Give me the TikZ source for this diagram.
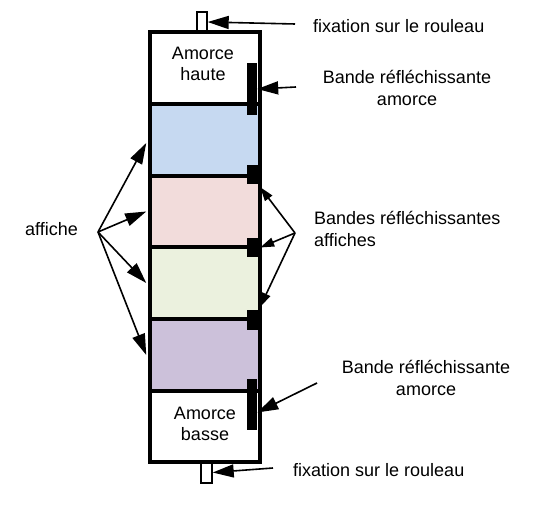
\documentclass[tikz,border=0pt]{standalone}
\usepackage{fontspec}
\setmainfont{Liberation Sans}
\usetikzlibrary{arrows.meta,positioning,calc}
\definecolor{bleuaff}{HTML}{C6D9F1}
\definecolor{roseaff}{HTML}{F2DCDB}
\definecolor{vertaff}{HTML}{EBF1DE}
\definecolor{violetaff}{HTML}{CCC1DA}
\tikzset{
  section/.style={draw=black,line width=3.5pt,minimum width=110pt,
                  minimum height=#1,inner sep=0pt},
  bande/.style={fill=black,draw=none,inner sep=0pt},
  patte/.style={draw=black,fill=white,line width=1.4pt,inner sep=0pt,
                minimum width=10pt,minimum height=20pt},
  etiquette/.style={font=\fontsize{18}{21.5}\selectfont,inner sep=0pt},
  fleche/.style={line width=1.6pt,-{Triangle[length=21pt,width=13pt]}},
  flechette/.style={line width=1.6pt,-{Triangle[length=14pt,width=9pt]}}
}

\begin{document}
\begin{tikzpicture}[x=1pt,y=-1pt]
      \useasboundingbox (0,0) rectangle (534,518);
      % pattes de fixation
      \node[patte] (pattehaut) at (202,22) {};
      \node[patte,minimum width=11pt,minimum height=21pt] (pattebas) at (206.5,472.5) {};
      % amorces et affiches
      \node[section=72pt,fill=white] (haute) at (205,68) {};
      \node[section=72pt,fill=bleuaff] (bleu) at (205,140) {};
      \node[section=71pt,fill=roseaff] (rose) at (205,211.5) {};
      \node[section=72pt,fill=vertaff] (vert) at (205,283) {};
      \node[section=72pt,fill=violetaff] (violet) at (205,355) {};
      \node[section=71pt,fill=white] (basse) at (205,426.5) {};
      \node[etiquette,align=center] (txthaute) at (203,64) {Amorce\\haute};
      \node[etiquette,align=center] (txtbasse) at (205,424) {Amorce\\basse};
      % bandes
      \node[bande,minimum width=10pt,minimum height=52pt] (bandhaut) at (252,89) {};
      \node[bande,minimum width=13pt,minimum height=19pt] (band1) at (253.5,174.5) {};
      \node[bande,minimum width=13pt,minimum height=19pt] (band2) at (253.5,247.5) {};
      \node[bande,minimum width=13pt,minimum height=20pt] (band3) at (253.5,320) {};
      \node[bande,minimum width=10pt,minimum height=51pt] (bandbas) at (252,404.5) {};
      % textes
      \node[etiquette,anchor=west] (fixhaut) at (313,26) {fixation sur le rouleau};
      \node[etiquette,anchor=west] (fixbas) at (293,470) {fixation sur le rouleau};
      \node[etiquette,align=center] (amorcehaut) at (407,88) {Bande réfléchissante\\amorce};
      \node[etiquette,align=center] (amorcebas) at (426,378) {Bande réfléchissante\\amorce};
      \node[etiquette,align=left,anchor=west] (bandesaff) at (314,229) {Bandes réfléchissantes\\affiches};
      \node[etiquette,anchor=east] (affiche) at (78,229) {affiche};
      % points de depart
      \coordinate (pfixhaut) at (295,24);
      \coordinate (pamhaut) at (296,87);
      \coordinate (pbandes) at (295,233);
      \coordinate (paff) at (98,232);
      \coordinate (pambas) at (317,383);
      \coordinate (pfixbas) at (273,468);
      % fleches
      \draw[fleche] (pfixhaut) -- (pattehaut.east);
      \draw[fleche] (pamhaut) -- (bandhaut.east);
      \draw[fleche] (paff) -- ([xshift=-2pt,yshift=-3pt]bleu.west);
      \draw[fleche] (paff) -- ([xshift=-2pt]rose.west);
      \draw[fleche] (paff) -- ([xshift=-2pt]vert.west);
      \draw[fleche] (paff) -- ([xshift=-2pt]violet.west);
      \draw[flechette] (pbandes) -- ([yshift=-3pt]band1.south east);
      \draw[flechette] (pbandes) -- (band2.east);
      \draw[flechette] (pbandes) -- ([yshift=3pt]band3.north east);
      \draw[fleche] (pambas) -- ([yshift=-8pt]bandbas.east);
      \draw[fleche] (pfixbas) -- (pattebas.east);
    \end{tikzpicture}
\end{document}
